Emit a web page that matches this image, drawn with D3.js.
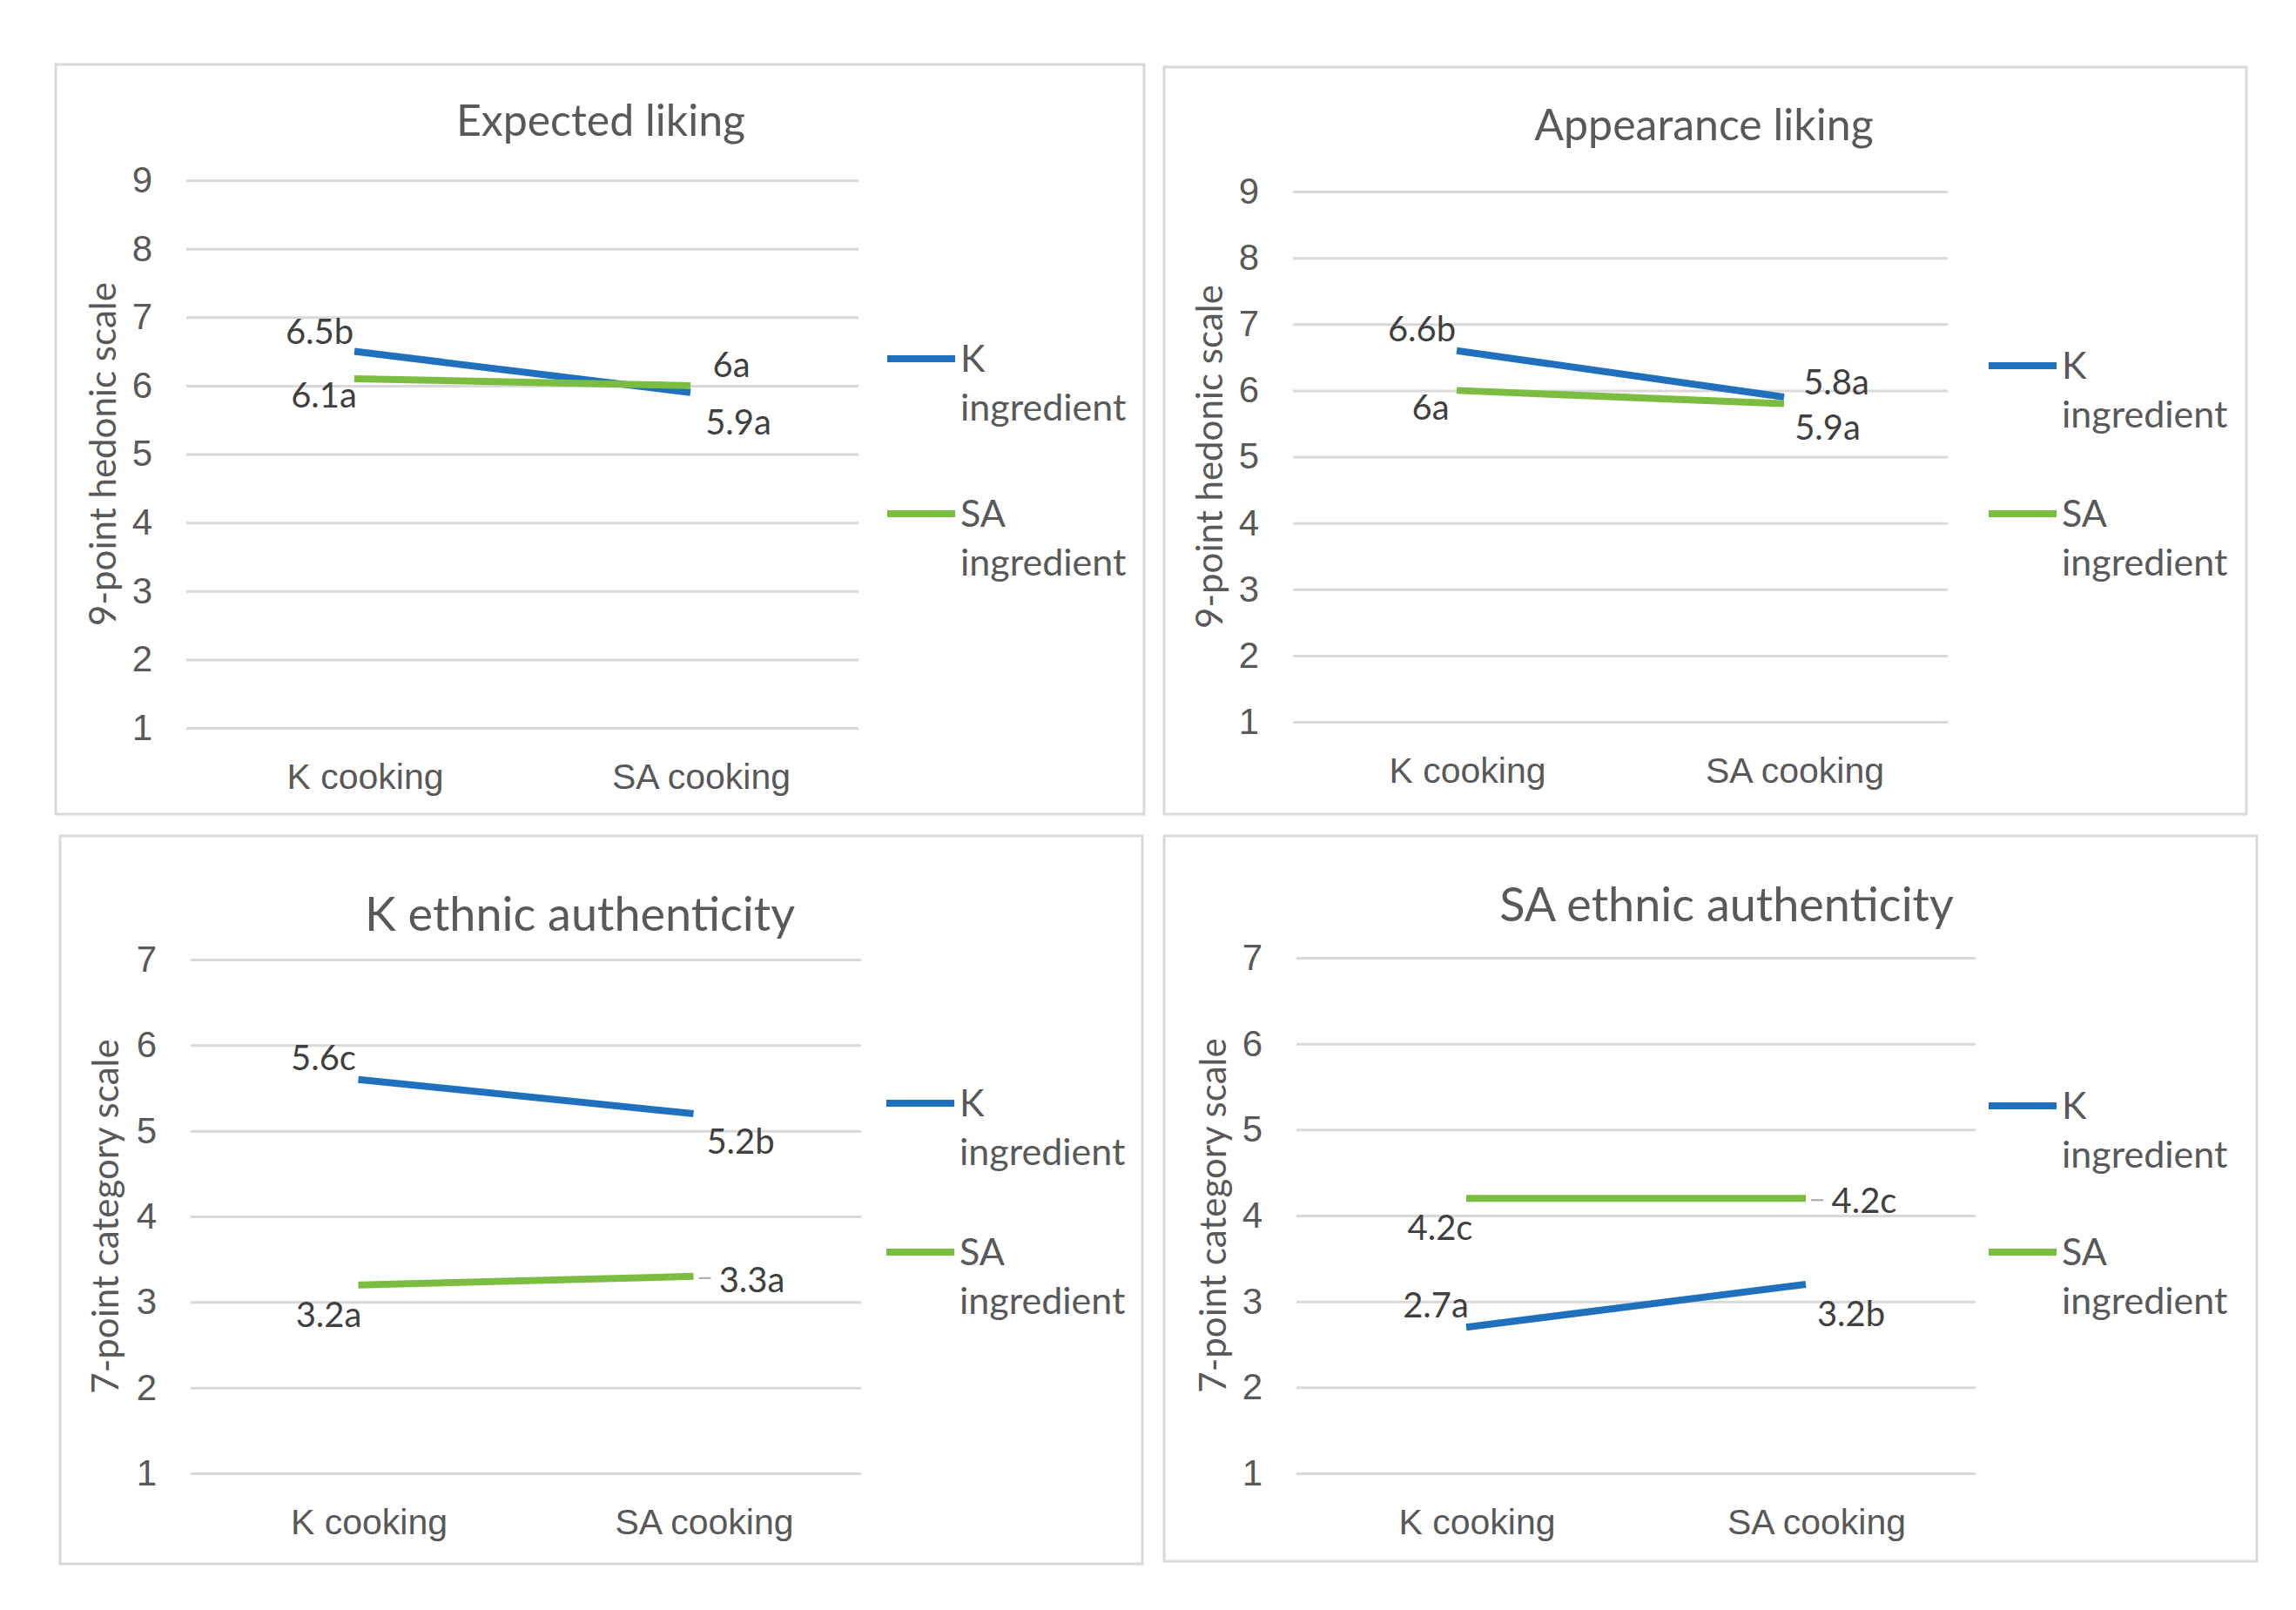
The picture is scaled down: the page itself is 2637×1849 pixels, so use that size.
<!DOCTYPE html>
<html>
<head>
<meta charset="utf-8">
<script src="https://cdn.jsdelivr.net/npm/d3@7"></script>
<style>
  body { margin: 0; background: #fff; }
  svg { display: block; font-family: Lato, "Open Sans", sans-serif; }
</style>
</head>
<body>
<div id="chart"></div>
<script>
// data
var categories = ['K cooking', 'SA cooking'];
var seriesNames = ['K ingredient', 'SA ingredient'];
var titles = ['Expected liking', 'Appearance liking', 'K ethnic authenticity', 'SA ethnic authenticity'];
var axisTitles = ['9-point hedonic scale', '9-point hedonic scale', '7-point category scale', '7-point category scale'];
var yMax = [9, 9, 7, 7];
var kValues = [[6.5, 5.9], [6.6, 5.9], [5.6, 5.2], [2.7, 3.2]];
var saValues = [[6.1, 6.0], [6.0, 5.8], [3.2, 3.3], [4.2, 4.2]];
var kLabels = [['6.5b', '5.9a'], ['6.6b', '5.9a'], ['5.6c', '5.2b'], ['2.7a', '3.2b']];
var saLabels = [['6.1a', '6a'], ['6a', '5.8a'], ['3.2a', '3.3a'], ['4.2c', '4.2c']];

// layout
var colors = ['#1f71bd', '#7bbd41'];
var panels = [
  {frame: [64, 74, 1314, 935], plot: [214, 207, 986, 836], title: [690, 138, 50], axisX: 118, legX: 1019, legY: [412, 590]},
  {frame: [1337, 77, 2580, 935], plot: [1485, 220, 2237, 829], title: [1957, 143, 50], axisX: 1389, legX: 2284, legY: [420, 590]},
  {frame: [69, 960, 1312, 1796], plot: [219, 1102, 989, 1692], title: [666, 1050, 54], axisX: 121, legX: 1018, legY: [1267, 1438]},
  {frame: [1337, 960, 2592, 1793], plot: [1489, 1100, 2269, 1692], title: [1983, 1039, 54], axisX: 1393, legX: 2284, legY: [1270, 1438]}
];
// label centre offsets from the point [dx, dy, leader]
var kLabelPos = [[[-40, -23], [55, 34]], [[-40, -25], [50, 35]], [[-40, -25], [54, 32]], [[-35, -25], [52, 34]]];
var saLabelPos = [[[-35, 19], [47, -24]], [[-30, 20], [60, -25]], [[-34, 34], [67, 4, 1]], [[-30, 34], [67, 3, 1]]];

var svg = d3.select('#chart').append('svg').attr('width', 2637).attr('height', 1849);

panels.forEach(function (p, i) {
  var g = svg.append('g');
  // frame
  g.append('rect')
    .attr('x', p.frame[0]).attr('y', p.frame[1])
    .attr('width', p.frame[2] - p.frame[0]).attr('height', p.frame[3] - p.frame[1])
    .attr('fill', '#fff').attr('stroke', '#d9d9d9').attr('stroke-width', 3);

  var x = d3.scalePoint().domain(categories).range([p.plot[0], p.plot[2]]).padding(0.5);
  var y = d3.scaleLinear().domain([1, yMax[i]]).range([p.plot[3], p.plot[1]]);

  // gridlines + y ticks
  var yAxis = g.append('g').attr('transform', 'translate(' + p.plot[0] + ',0)')
    .call(d3.axisLeft(y).tickValues(d3.range(1, yMax[i] + 1)).tickFormat(d3.format('d'))
      .tickSize(-(p.plot[2] - p.plot[0])).tickPadding(39));
  yAxis.select('.domain').remove();
  yAxis.selectAll('line').attr('stroke', '#d9d9d9').attr('stroke-width', 3);
  yAxis.selectAll('text').attr('font-size', 42).attr('fill', '#595959').attr('font-family', null);

  // category labels
  var xAxis = g.append('g').attr('transform', 'translate(0,' + p.plot[3] + ')')
    .call(d3.axisBottom(x).tickSize(0).tickPadding(56));
  xAxis.select('.domain').remove();
  xAxis.selectAll('text').attr('dy', '0.35em').attr('dx', 12).attr('font-size', 41)
    .attr('fill', '#595959').attr('font-family', null);

  // titles
  g.append('text').text(titles[i])
    .attr('x', p.title[0]).attr('y', p.title[1]).attr('dy', '0.35em')
    .attr('text-anchor', 'middle').attr('font-size', p.title[2]).attr('fill', '#595959');
  g.append('text').text(axisTitles[i])
    .attr('transform', 'translate(' + p.axisX + ',' + (p.plot[1] + p.plot[3]) / 2 + ')rotate(-90)')
    .attr('dy', '0.35em').attr('text-anchor', 'middle').attr('font-size', 42).attr('fill', '#595959');

  // series lines and labels
  var line = d3.line().x(function (d, j) { return x(categories[j]); }).y(function (d) { return y(d); });
  [[kValues[i], kLabels[i], kLabelPos[i]], [saValues[i], saLabels[i], saLabelPos[i]]].forEach(function (s, k) {
    g.append('path').datum(s[0]).attr('d', line)
      .attr('fill', 'none').attr('stroke', colors[k]).attr('stroke-width', 8);
    s[0].forEach(function (v, j) {
      var px = x(categories[j]), py = y(v), off = s[2][j];
      if (off[2]) {
        g.append('line').attr('x1', px + 6).attr('x2', px + 20).attr('y1', py + 2).attr('y2', py + 2)
          .attr('stroke', '#a6a6a6').attr('stroke-width', 2);
      }
      g.append('text').text(s[1][j])
        .attr('x', px + off[0]).attr('y', py + off[1]).attr('dy', '0.35em')
        .attr('text-anchor', 'middle').attr('font-size', 40).attr('fill', '#404040');
    });
  });

  // legend
  seriesNames.forEach(function (name, k) {
    var ly = p.legY[k];
    g.append('line').attr('x1', p.legX).attr('x2', p.legX + 78).attr('y1', ly).attr('y2', ly)
      .attr('stroke', colors[k]).attr('stroke-width', 8);
    var words = name.split(' ');
    words.forEach(function (w, n) {
      g.append('text').text(w)
        .attr('x', p.legX + 84).attr('y', ly + n * 56).attr('dy', '0.35em')
        .attr('font-size', 43).attr('fill', '#595959');
    });
  });
});
</script>
</body>
</html>
